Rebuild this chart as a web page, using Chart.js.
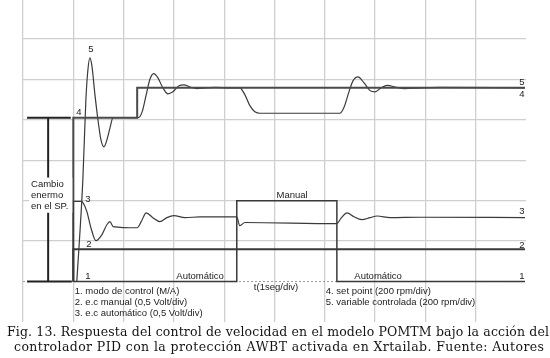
<!DOCTYPE html>
<html>
<head>
<meta charset="utf-8">
<title>Respuesta POMTM</title>
<script src="https://cdn.jsdelivr.net/npm/chart.js"></script>
<style>
  body { margin: 0; background: #fff; }
  #wrap { width: 550px; height: 358px; }
</style>
</head>
<body>
<div id="wrap"><canvas id="grafico" width="550" height="358"></canvas></div>
<script>
// tiempo en s (1 s/div), amplitud en divisiones sobre la linea de cero
// 1. modo de control (M/A)
const tModo = [1.0, 4.25, 4.25, 6.24, 6.24, 9.98];
const vModo = [0, 0, 2.0, 2.0, 0, 0];

// 2. e.c manual
const tManual = [1.0, 1.0, 9.98];
const vManual = [0, 0.80, 0.80];

// 3. e.c automatico
const tAuto = [1.0, 1.0, 1.15, 1.19, 1.27, 1.35, 1.45, 1.57, 1.67, 1.73, 1.79, 2.27, 2.35, 2.45, 2.58,
  2.72, 2.86, 3.0, 3.22, 3.52, 4.25, 4.31, 4.41, 6.24, 6.32, 6.44, 6.58, 6.74, 6.90, 7.04, 7.30, 7.89, 9.98];
const vAuto = [0, 1.98, 1.98, 1.95, 1.73, 1.33, 1.01, 1.16, 1.41, 1.48, 1.36, 1.33, 1.48, 1.70, 1.58,
  1.48, 1.58, 1.63, 1.58, 1.60, 1.60, 1.38, 1.46, 1.43, 1.56, 1.70, 1.60, 1.53, 1.58, 1.62, 1.58, 1.59, 1.58];

// 4. set point
const tSP = [1.0, 1.0, 2.27, 2.27, 9.98];
const vSP = [0, 4.05, 4.05, 4.79, 4.79];

// 5. variable controlada
const tVC = [1.07, 1.19, 1.25, 1.29, 1.33, 1.37, 1.43, 1.49, 1.55, 1.61, 1.67, 1.73, 1.79, 2.29, 2.37,
  2.45, 2.52, 2.60, 2.68, 2.78, 2.88, 2.98, 3.10, 3.20, 3.32, 3.46, 3.62, 3.82, 4.12, 4.31, 4.41, 4.51,
  4.61, 4.71, 6.30, 6.38, 6.48, 6.56, 6.66, 6.78, 6.90, 7.0, 7.12, 7.24, 7.40, 7.59, 7.89, 8.29, 9.98];
const vVC = [0, 2.52, 4.49, 5.23, 5.53, 5.33, 4.62, 4.0, 3.5, 3.33, 3.51, 3.80, 4.05, 4.05, 4.2,
  4.62, 4.99, 5.14, 5.04, 4.79, 4.64, 4.69, 4.84, 4.86, 4.81, 4.77, 4.79, 4.80, 4.79, 4.79, 4.62, 4.35,
  4.20, 4.16, 4.16, 4.30, 4.69, 4.96, 5.06, 4.91, 4.72, 4.69, 4.79, 4.85, 4.81, 4.77, 4.79, 4.80, 4.79];

// linea de cero punteada y marca del cambio de SP
const tCero = [0, 10];
const vCero = [0, 0];
const tMarcaV = [0.50, 0.50];
const vMarcaV = [0, 4.05];
const tMarcaA = [0.08, 0.95];
const tMarcaB = [0.08, 0.97];

const etiquetas = [
  { texto: '5', t: 1.35, v: 5.73 },
  { texto: '4', t: 1.11, v: 4.17 },
  { texto: '3', t: 1.29, v: 2.02 },
  { texto: '2', t: 1.31, v: 0.91 },
  { texto: '1', t: 1.29, v: 0.12 },
  { texto: '5', t: 9.92, v: 4.93 },
  { texto: '4', t: 9.92, v: 4.62 },
  { texto: '3', t: 9.92, v: 1.73 },
  { texto: '2', t: 9.92, v: 0.89 },
  { texto: '1', t: 9.92, v: 0.12 },
  { texto: 'Manual', t: 5.35, v: 2.12 },
  { texto: 'Automático', t: 3.52, v: 0.12 },
  { texto: 'Automático', t: 7.06, v: 0.12 },
  { texto: 't(1seg/div)', t: 5.03, v: -0.15 }
];
const leyendaIzq = ['1. modo de control (M/A)', '2. e.c manual (0,5 Volt/div)', '3. e.c automático (0,5 Volt/div)'];
const leyendaDer = ['4. set point (200 rpm/div)', '5. variable controlada (200 rpm/div)'];
const nota = ['Cambio', 'enermo', 'en el SP.'];
const pie = [
  'Fig. 13. Respuesta del control de velocidad en el modelo POMTM bajo la acción del',
  'controlador PID con la protección AWBT activada en Xrtailab. Fuente: Autores'
];

function puntos(ts, vs) {
  return ts.map((t, i) => ({ x: t, y: vs[i] }));
}

function traza(ts, vs, ancho, color) {
  return {
    data: puntos(ts, vs),
    borderColor: color || '#3a3a3a',
    borderWidth: ancho,
    pointRadius: 0,
    fill: false,
    cubicInterpolationMode: 'monotone'
  };
}

// texto justificado letra a letra entre x0 y x1
function justificado(ctx, s, x0, x1, yb) {
  const anchos = [...s].map(ch => ctx.measureText(ch).width);
  const total = anchos.reduce((a, b) => a + b, 0);
  const extra = (x1 - x0 - total) / (anchos.length - 1);
  let x = x0;
  [...s].forEach((ch, i) => {
    ctx.fillText(ch, x, yb);
    x += anchos[i] + extra;
  });
}

const textos = {
  id: 'textos',
  afterDatasetsDraw(chart) {
    const { ctx, scales: { x, y } } = chart;
    ctx.save();
    ctx.fillStyle = '#fff';
    ctx.fillRect(x.getPixelForValue(0.12), y.getPixelForValue(2.57),
      x.getPixelForValue(0.98) - x.getPixelForValue(0.12), y.getPixelForValue(1.70) - y.getPixelForValue(2.57));
    ctx.fillStyle = '#222';
    ctx.font = '9.5px "Liberation Sans", Arial, sans-serif';
    ctx.textBaseline = 'middle';
    ctx.textAlign = 'center';
    etiquetas.forEach(e => ctx.fillText(e.texto, x.getPixelForValue(e.t), y.getPixelForValue(e.v)));
    ctx.textAlign = 'left';
    nota.forEach((s, i) => ctx.fillText(s, x.getPixelForValue(0.16), y.getPixelForValue(2.40) + i * 11));
    leyendaIzq.forEach((s, i) => ctx.fillText(s, x.getPixelForValue(1.03), y.getPixelForValue(-0.25) + i * 10.7));
    leyendaDer.forEach((s, i) => ctx.fillText(s, x.getPixelForValue(6.02), y.getPixelForValue(-0.25) + i * 10.7));
    ctx.restore();
  },
  afterDraw(chart) {
    const ctx = chart.ctx;
    ctx.save();
    ctx.fillStyle = '#151515';
    ctx.font = '12.5px "DejaVu Serif", serif';
    ctx.textAlign = 'left';
    ctx.textBaseline = 'alphabetic';
    justificado(ctx, pie[0], 7, 549, 336);
    justificado(ctx, pie[1], 14, 544, 351);
    ctx.restore();
  }
};

new Chart(document.getElementById('grafico'), {
  type: 'line',
  data: {
    datasets: [
      traza(tModo, vModo, 1.5),
      traza(tManual, vManual, 2),
      traza(tAuto, vAuto, 1.2),
      traza(tSP, vSP, 2, '#4a4a4a'),
      traza(tVC, vVC, 1.2),
      Object.assign(traza(tCero, vCero, 1, '#9a9a9a'), { borderDash: [2, 2], order: 10 }),
      traza(tMarcaV, vMarcaV, 2, '#222'),
      traza(tMarcaA, [4.05, 4.05], 2, '#222'),
      traza(tMarcaB, [0, 0], 2, '#222')
    ]
  },
  options: {
    responsive: false,
    animation: false,
    events: [],
    layout: { padding: { left: 23, right: 24, top: 0, bottom: 36 } },
    plugins: { legend: { display: false }, tooltip: { enabled: false } },
    scales: {
      x: {
        type: 'linear',
        min: 0,
        max: 10,
        ticks: { display: false, stepSize: 1 },
        border: { display: false },
        grid: {
          drawTicks: false,
          lineWidth: 1.3,
          color: c => (c.tick && c.tick.value === 10) ? 'rgba(0,0,0,0)' : '#cfcfcf'
        }
      },
      y: {
        type: 'linear',
        min: -1,
        max: 6.96,
        afterBuildTicks: s => { s.ticks = s.ticks.filter(t => Number.isInteger(t.value)); },
        ticks: { display: false, stepSize: 1 },
        border: { display: false },
        grid: {
          drawTicks: false,
          lineWidth: 1.3,
          color: c => (c.tick && c.tick.value <= 0) ? 'rgba(0,0,0,0)' : '#cfcfcf'
        }
      }
    }
  },
  plugins: [textos]
});
</script>
</body>
</html>
